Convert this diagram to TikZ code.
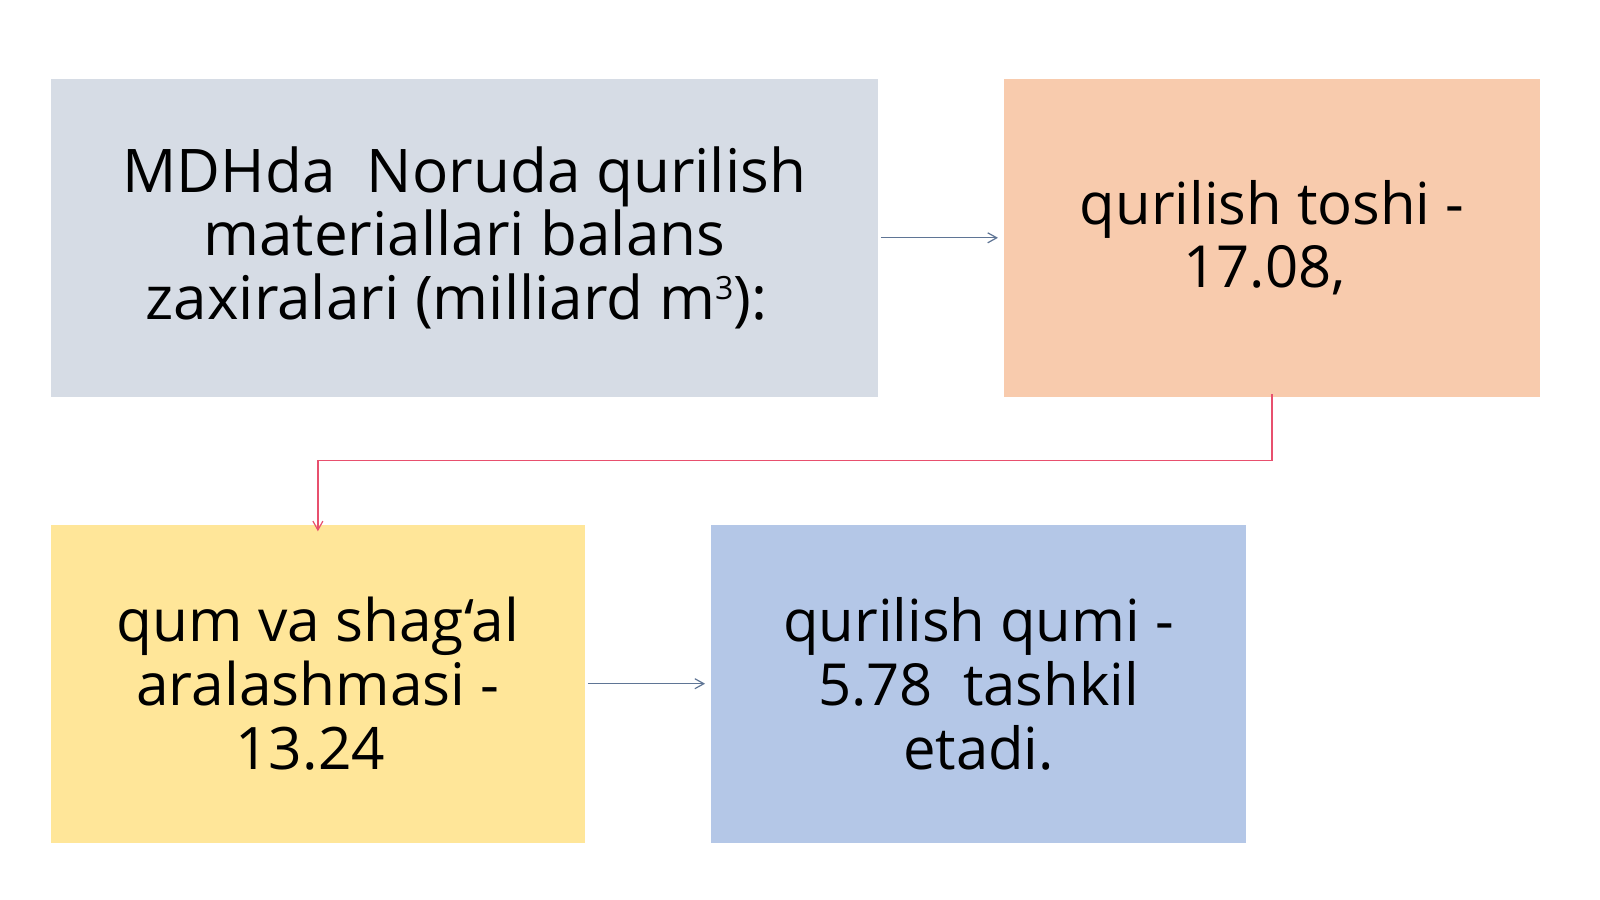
\documentclass[tikz,border=0pt]{standalone}
\usepackage{fontspec}
\setmainfont{Open Sans}
\usetikzlibrary{arrows.meta}
\definecolor{cA}{HTML}{D6DCE5}
\definecolor{cB}{HTML}{F8CBAD}
\definecolor{cC}{HTML}{FFE699}
\definecolor{cD}{HTML}{B4C7E7}
\definecolor{arrB}{HTML}{5F7595}
\definecolor{arrR}{HTML}{E8506E}
\newcommand{\trsp}{\kern0.26em}
\newcommand{\cubesup}{\raisebox{20pt}{\fontsize{32}{32}\selectfont 3}}
\begin{document}
\begin{tikzpicture}[x=1pt,y=-1pt,
  box/.style={draw=none,inner sep=0pt,align=center,minimum height=318.4pt,
    font=\fontsize{58}{63.8}\selectfont},
  bigbox/.style={box,font=\fontsize{60.2}{63.8}\selectfont},
  conn/.style={-{Straight Barb[length=9pt,width=10pt]},line width=1.2pt}]
\useasboundingbox (0,0) rectangle (1600,899);
\fill[white] (0,0) rectangle (1600,899);
\node[bigbox,fill=cA,minimum width=826.6pt] (a) at (464.3,237.8) {MDHda\ \ Noruda qurilish\\materiallari balans\\zaxiralari (milliard m\cubesup):\trsp};
\node[box,fill=cB,minimum width=535.7pt] (b) at (1272,237.8) {qurilish toshi -\\17.08,\trsp};
\node[box,fill=cC,minimum width=533.7pt,font=\fontsize{58.6}{64.2}\selectfont] (c) at (317.9,683.7) {qum va shag‘al\\aralashmasi -\\13.24\trsp};
\node[box,fill=cD,minimum width=534.7pt] (d) at (978.6,683.7) {qurilish qumi -\\5.78\ \ tashkil\\etadi.};
\draw[conn,arrB] ([xshift=3pt]a.east) -- ([xshift=-6pt]b.west);
\draw[conn,arrB] ([xshift=3pt]c.east) -- ([xshift=-6pt]d.west);
\coordinate (m) at (0,460.2);
\draw[conn,arrR] ([yshift=3pt]b.south) |- (c.north |- m) -- ([yshift=-7pt]c.north);
\end{tikzpicture}
\end{document}
